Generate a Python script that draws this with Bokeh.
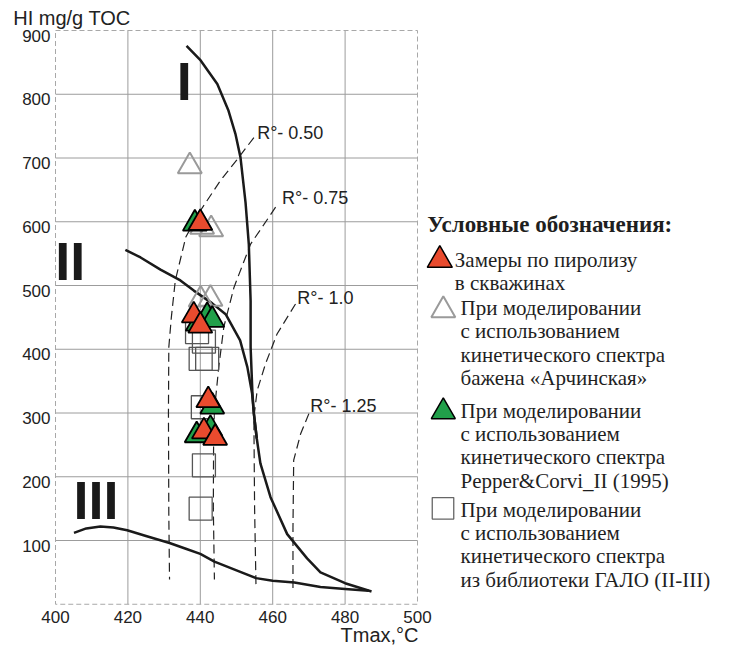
from bokeh.plotting import figure
from bokeh.models import Range1d, FixedTicker, Label, ColumnDataSource
from bokeh.core.properties import value
from bokeh.embed import file_html
from bokeh.resources import INLINE

# ---------------- data ----------------
x_ticks = [400, 420, 440, 460, 480, 500]
y_ticks = [100, 200, 300, 400, 500, 600, 700, 800, 900]

# kerogen type boundary curves
type1_x = [436.2, 440.1, 444.7, 447.8, 449.7, 451.1, 452.5, 453.4, 453.9, 453.9, 454.4, 454.8,
           455.6, 456.6, 459.4, 464.0, 469.5, 473.2, 480.0, 487.3]
type1_y = [876, 853, 816, 774, 738, 701, 630, 565, 476, 403, 331, 299,
           260, 221, 168, 110, 72, 50, 33, 20]
type2_x = [419.3, 423.5, 429.0, 434.5, 438.2, 443.3, 447.0, 451.0, 453.0, 454.3, 454.8, 455.6]
type2_y = [556, 544, 525, 508, 492, 472, 455, 414, 372, 331, 299, 260]
type3_x = [405.1, 408.5, 412.4, 416.0, 419.8, 425.0, 431.5, 436.0, 440.0, 443.9, 450.0,
           455.4, 460.0, 466.0, 473.2, 480.0, 486.5]
type3_y = [112, 119, 122, 120.5, 116, 107, 96, 87, 79, 67, 53, 41, 37, 34, 27, 24, 21]

# vitrinite reflectance iso-lines
ro050_x = [454.8, 450.5, 445.6, 440.1, 436.0, 433.1, 432.0, 431.3, 431.2, 431.3, 431.5]
ro050_y = [732, 700, 665, 618, 576, 508, 450, 403, 300, 142, 39]
ro075_x = [460.8, 457.5, 453.9, 449.3, 446.5, 445.1, 443.7, 443.6, 443.9]
ro075_y = [623, 595, 565, 497, 435, 372, 293, 150, 39]
ro100_x = [466.3, 461.2, 458.0, 455.7, 454.8, 455.0, 455.4]
ro100_y = [471, 424, 377, 335, 293, 150, 24]
ro125_x = [470.0, 467.7, 465.8, 465.6, 465.6]
ro125_y = [299, 267, 226, 120, 24]
ro_texts = ["R°- 0.50", "R°- 0.75", "R°- 1.0", "R°- 1.25"]

# samples
meas_x = [440.0, 438.2, 440.0, 442.2, 441.0, 444.1]          # pyrolysis in wells
meas_y = [598, 453, 437, 320, 271, 261]
pc_x = [438.5, 441.9, 443.3, 439.3, 443.3, 439.0, 442.8]      # Pepper&Corvi_II
pc_y = [597, 452, 446, 440, 310, 265, 275]
arch_x = [437.1, 440.5, 443.0, 440.1, 442.8]                 # Archinskaya spectrum
arch_y = [687, 592, 588, 478, 479]
galo_x = [439.1, 441.0, 440.1, 441.9, 440.7, 441.0, 440.1]   # GALO library
galo_y = [427, 412, 385, 385, 309, 218, 150]

kerogen_texts = ["I", "II", "III"]

legend_title = "Условные обозначения:"
legend_texts = [
    ["Замеры по пиролизу", "в скважинах"],
    ["При моделировании", "с использованием", "кинетического спектра", "бажена «Арчинская»"],
    ["При моделировании", "с использованием", "кинетического спектра", "Pepper&Corvi_II (1995)"],
    ["При моделировании", "с использованием", "кинетического спектра", "из библиотеки ГАЛО (II-III)"],
]

# ---------------- layout ----------------
W, H = 724, 646
SX = 3.62      # px per degC
SY = 0.6375    # px per HI unit
X_PX0 = 55.0   # pixel of Tmax = 400
Y_PX0 = 603.75 # pixel of HI = 0
x0 = 400 - X_PX0 / SX
x1 = x0 + W / SX
y1 = Y_PX0 / SY
y0 = y1 - H / SY
MID = 0.35     # baseline -> text middle, in em

SANS = "Liberation Sans"
SERIF = "Liberation Serif"
RED = "#E94B2E"
GREEN = "#21A04A"
GRAYTRI = "#9a9a9a"
SQCOL = "#555555"
INK = "#1f1f1f"

p = figure(width=W, height=H, output_backend="svg", toolbar_location=None,
           x_range=Range1d(x0, x1), y_range=Range1d(y0, y1), min_border=0)
p.extra_x_ranges = {"px": Range1d(0, W)}
p.extra_y_ranges = {"py": Range1d(H, 0),
                    "ylab": Range1d(y0 + 5 / SY, y1 + 5 / SY)}
p.outline_line_color = None
p.xgrid.visible = False
p.ygrid.visible = False
p.background_fill_color = "white"
p.border_fill_color = "white"

p.xaxis.fixed_location = 0
p.yaxis.fixed_location = 400
p.yaxis[0].y_range_name = "ylab"
for ax, standoff in ((p.xaxis, 7), (p.yaxis, 5)):
    ax.axis_line_color = None
    ax.major_tick_line_color = None
    ax.minor_tick_line_color = None
    ax.major_tick_out = 0
    ax.major_tick_in = 0
    ax.major_label_text_font = SANS
    ax.major_label_text_font_size = "17px"
    ax.major_label_text_color = "#222222"
    ax.major_label_standoff = standoff
p.xaxis.ticker = FixedTicker(ticks=x_ticks)
p.yaxis.ticker = FixedTicker(ticks=y_ticks)

# grid lines inside the 400-500 / 0-900 box
hg = y_ticks[:-1]
p.segment(x0=[x_ticks[0]] * len(hg), x1=[x_ticks[-1]] * len(hg), y0=hg, y1=hg,
          line_color="#9c9c9c", line_width=1)
vg = x_ticks[1:-1]
p.segment(x0=vg, x1=vg, y0=[0] * len(vg), y1=[y_ticks[-1]] * len(vg),
          line_color="#9c9c9c", line_width=1)
p.quad(left=[x_ticks[0]], right=[x_ticks[-1]], bottom=[0], top=[y_ticks[-1]],
       fill_color=None, line_color="#a8a8a8", line_width=1, line_dash="5 3")

# Ro lines
for xs, ys in ((ro050_x, ro050_y), (ro075_x, ro075_y), (ro100_x, ro100_y), (ro125_x, ro125_y)):
    p.line(xs, ys, line_color="#222222", line_width=1.2, line_dash="9 5")

# kerogen curves
for xs, ys in ((type1_x, type1_y), (type2_x, type2_y), (type3_x, type3_y)):
    p.line(xs, ys, line_color="#1a1a1a", line_width=2.5, line_join="round")

# kerogen type labels (baseline positions -> middle)
fs_k = 54
kt = ColumnDataSource(dict(x=[433.5, 399.9, 405.0],
                           y=[b + MID * fs_k / SY for b in (791.8, 509.4, 134.0)],
                           t=kerogen_texts))
p.text(x="x", y="y", text="t", source=kt, text_font=value(SANS), text_font_style="bold",
       text_font_size=f"{fs_k}px", text_color="#1a1a1a", text_baseline="middle",
       text_align="left")

# markers
p.scatter(galo_x, galo_y, marker="square", size=23, fill_color=None,
          line_color=SQCOL, line_width=1.3)
p.scatter(arch_x, arch_y, marker="triangle", size=24, fill_color=None,
          line_color=GRAYTRI, line_width=2)
p.scatter(pc_x, pc_y, marker="triangle", size=24, fill_color=GREEN,
          line_color="black", line_width=1.8)
p.scatter(meas_x, meas_y, marker="triangle", size=24, fill_color=RED,
          line_color="black", line_width=1.8)

# Ro labels
fs_r = 18
rl = ColumnDataSource(dict(x=[455.7, 462.6, 466.8, 470.4],
                           y=[b + MID * fs_r / SY for b in (729, 628, 470, 301)],
                           t=ro_texts))
p.text(x="x", y="y", text="t", source=rl, text_font=value(SANS), text_font_size=f"{fs_r}px",
       text_color="#222222", text_baseline="middle", text_align="left")

# axis titles (pixel coordinates)
p.add_layout(Label(x=12.7, y=24 - MID * 20, x_range_name="px", y_range_name="py",
                   text="HI mg/g TOC", text_font=SANS, text_font_size="20px",
                   text_color="#222222", text_baseline="middle", text_align="left"))
p.add_layout(Label(x=418, y=641 - MID * 20, x_range_name="px", y_range_name="py",
                   text="Tmax,°C", text_font=SANS, text_font_size="20px",
                   text_color="#222222", text_baseline="middle", text_align="right"))

# ---------------- legend (pixel coordinates) ----------------
fs_t = 23
p.text(x=[426.7], y=[231.7 - MID * fs_t], text=[legend_title], x_range_name="px",
       y_range_name="py", text_font=value(SERIF), text_font_style="bold",
       text_font_size=f"{fs_t}px", text_color=INK, text_baseline="middle", text_align="left")

p.scatter([439.3], [259.6], marker="triangle", size=25, fill_color=RED, line_color="black",
          line_width=1.5, x_range_name="px", y_range_name="py")
p.scatter([442.8], [309.7], marker="triangle", size=24, fill_color=None, line_color=GRAYTRI,
          line_width=2, x_range_name="px", y_range_name="py")
p.scatter([442.8], [411.3], marker="triangle", size=24, fill_color=GREEN, line_color="black",
          line_width=1.5, x_range_name="px", y_range_name="py")
p.scatter([442.5], [507.8], marker="square", size=21.5, fill_color=None, line_color="#666666",
          line_width=1.3, x_range_name="px", y_range_name="py")

fs_l = 21
text_left = [454.3, 460, 460, 460]
first_base = [266.7, 315.0, 417.7, 516.7]
step = 23.3
lx, ly, lt = [], [], []
for lines, left, base in zip(legend_texts, text_left, first_base):
    for i, line in enumerate(lines):
        lx.append(left)
        ly.append(base + i * step - MID * fs_l)
        lt.append(line)
p.text(x=lx, y=ly, text=lt, x_range_name="px", y_range_name="py",
       text_font=value(SERIF), text_font_size=f"{fs_l}px", text_color=INK,
       text_baseline="middle", text_align="left")

open("out.html", "w").write(file_html(p, INLINE))
